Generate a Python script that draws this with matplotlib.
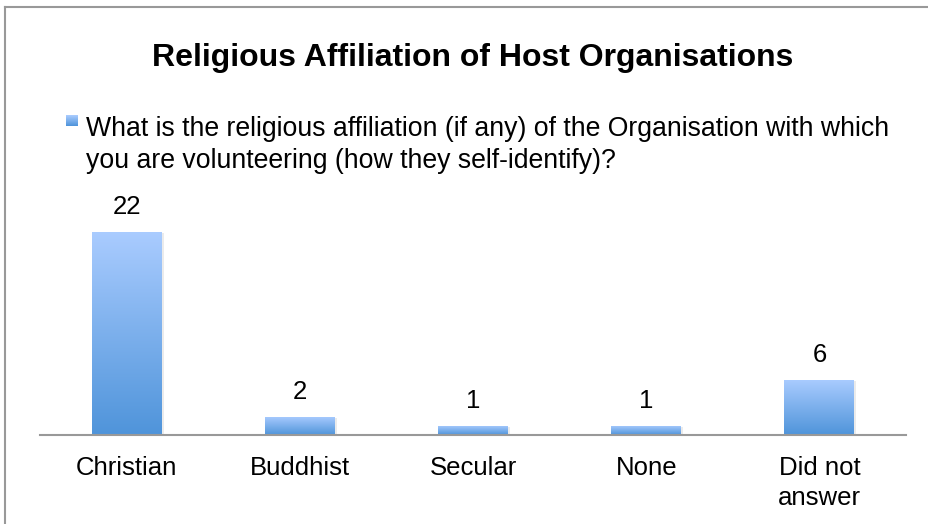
import numpy as np
import matplotlib.pyplot as plt
from matplotlib.colors import LinearSegmentedColormap
from matplotlib.patches import Rectangle

plt.rcParams['font.family'] = ['Liberation Sans', 'DejaVu Sans']

categories = ['Christian', 'Buddhist', 'Secular', 'None', 'Did not\nanswer']
counts = [22, 2, 1, 1, 6]
title = 'Religious Affiliation of Host Organisations'
series_name = ('What is the religious affiliation (if any) of the Organisation with which\n'
               'you are volunteering (how they self-identify)?')

grad = LinearSegmentedColormap.from_list('bar', ['#4f94da', '#aaccff'])

fig = plt.figure(figsize=(9.29, 5.24), dpi=100)

# outer chart frame (top and left edges visible)
fig.add_artist(plt.Line2D([5 / 929, 1], [1 - 7 / 524, 1 - 7 / 524], color='#999999', lw=1.5))
fig.add_artist(plt.Line2D([5 / 929, 5 / 929], [0, 1 - 7 / 524], color='#999999', lw=1.5))

ax = fig.add_axes([40 / 929, 89 / 524, 866 / 929, 245 / 524])
x = np.arange(len(categories))
ylim_top = 245 / 9.23
ax.set_xlim(-0.5, len(categories) - 0.5)
ax.set_ylim(0, ylim_top)

bars = ax.bar(x, counts, width=0.404, color='none', edgecolor='none', zorder=2)
gy = np.linspace(0, 1, 256).reshape(-1, 1)
for b in bars:
    x0, w, h = b.get_x(), b.get_width(), b.get_height()
    # soft shadow
    ax.add_patch(Rectangle((x0 + 0.012, 0), w, h - 0.15, facecolor='#000000', alpha=0.08,
                           edgecolor='none', zorder=1))
    im = ax.imshow(gy, extent=[x0, x0 + w, 0, h], origin='lower', cmap=grad,
                   aspect='auto', zorder=2)
    im.set_clip_path(b)

for xi, v in zip(x, counts):
    ax.text(xi, v + 1.35, str(v), ha='center', va='bottom', fontsize=18.5)

for s in ['top', 'right', 'left']:
    ax.spines[s].set_visible(False)
ax.spines['bottom'].set_color('#999999')
ax.spines['bottom'].set_linewidth(1.5)
ax.set_yticks([])
ax.set_xticks(x)
ax.set_xticklabels(categories, fontsize=18.5, linespacing=1.3)
ax.tick_params(axis='x', length=0, pad=15)

fig.text(473 / 929, 1 - 58 / 524, title, ha='center', va='center', fontsize=23,
         fontweight='bold')

# legend
sq = np.linspace(0, 1, 32).reshape(-1, 1)
lax = fig.add_axes([66 / 929, 1 - 126 / 524, 12 / 929, 11 / 524])
lax.imshow(sq, cmap=grad, origin='lower', aspect='auto')
lax.axis('off')
fig.text(86 / 929, 1 - 116 / 524, series_name, ha='left', va='top', fontsize=19.2,
         linespacing=1.3)

fig.savefig('out.png', dpi=100)
